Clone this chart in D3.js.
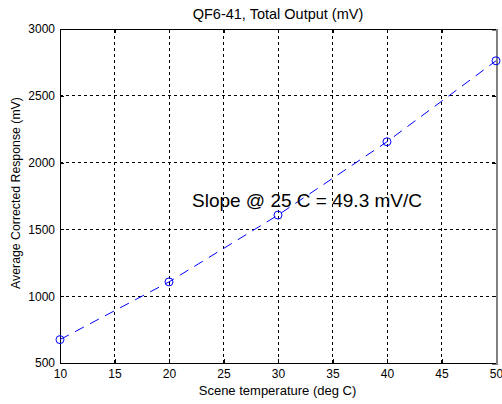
<!DOCTYPE html>
<html><head><meta charset="utf-8">
<script src="https://cdn.jsdelivr.net/npm/d3@7"></script>
<style>body{margin:0;background:#fff}svg{display:block}text{font-family:Arial,"Liberation Sans",Helvetica,sans-serif}</style>
</head><body>
<script>
const temps = [10, 20, 30, 40, 50];
const response = [675, 1107, 1607, 2156, 2762];
const xTicks = [10, 15, 20, 25, 30, 35, 40, 45, 50];
const yTicks = [500, 1000, 1500, 2000, 2500, 3000];
const title = "QF6-41, Total Output (mV)";
const xLabel = "Scene temperature (deg C)";
const yLabel = "Average Corrected Response (mV)";
const note = "Slope @ 25 C = 49.3 mV/C";

const W = 502, H = 404;
const m = {l: 60, r: 6, t: 29, b: 41};
const svg = d3.select("body").append("svg").attr("width", W).attr("height", H);
const x = d3.scaleLinear().domain([10, 50]).range([m.l, W - m.r]);
const y = d3.scaleLinear().domain([500, 3000]).range([H - m.b, m.t]);

// grid
const g = svg.append("g");
g.selectAll(".gx").data(xTicks.slice(1, -1)).join("line")
  .attr("x1", d => x(d)).attr("x2", d => x(d)).attr("y1", y(500)).attr("y2", y(3000))
  .attr("stroke", "#000").attr("stroke-dasharray", "3,3").attr("stroke-width", 1).attr("shape-rendering", "crispEdges");
g.selectAll(".gy").data(yTicks.slice(1, -1)).join("line")
  .attr("y1", d => y(d)).attr("y2", d => y(d)).attr("x1", x(10)).attr("x2", x(50))
  .attr("stroke", "#000").attr("stroke-dasharray", "3,3").attr("stroke-width", 1).attr("shape-rendering", "crispEdges");

// axes
svg.append("g").attr("transform", `translate(0,${y(500)})`)
  .call(d3.axisBottom(x).tickValues(xTicks).tickSize(-4).tickPadding(6));
svg.append("g").attr("transform", `translate(${x(10)},0)`)
  .call(d3.axisLeft(y).tickValues(yTicks).tickSize(-4).tickPadding(5).tickFormat(d3.format("d")));
svg.append("g").attr("transform", `translate(0,${y(3000)})`)
  .call(d3.axisTop(x).tickValues(xTicks).tickSize(-4).tickFormat(""));
const right = svg.append("g").attr("class", "rightax").attr("transform", `translate(${x(50)},0)`)
  .call(d3.axisRight(y).tickValues(yTicks).tickSize(-4).tickFormat(""));
svg.selectAll(".domain").attr("stroke", "#000").attr("shape-rendering", "crispEdges");
svg.selectAll(".tick line").attr("stroke", "#000").attr("shape-rendering", "crispEdges");
right.select(".domain").attr("stroke", "#808080").attr("stroke-width", 2);
svg.selectAll(".tick text").attr("font-size", 12).attr("fill", "#000")
  .attr("font-family", "Arial, 'Liberation Sans', sans-serif");

// data line
const line = d3.line().x((d, i) => x(temps[i])).y(d => y(d));
svg.append("path").datum(response).attr("d", line)
  .attr("fill", "none").attr("stroke", "#0000ff").attr("stroke-width", 1)
  .attr("stroke-dasharray", "10,7");
svg.selectAll(".pt").data(response).join("circle")
  .attr("cx", (d, i) => x(temps[i])).attr("cy", d => y(d)).attr("r", 4)
  .attr("fill", "none").attr("stroke", "#0000ff").attr("stroke-width", 1);

// texts
svg.append("text").attr("x", (x(10) + x(50)) / 2).attr("y", 19).attr("text-anchor", "middle")
  .attr("font-size", 14.5).text(title);
svg.append("text").attr("x", (x(10) + x(50)) / 2 - 0.5).attr("y", 395).attr("text-anchor", "middle")
  .attr("font-size", 13).text(xLabel);
svg.append("text").attr("transform", `translate(20,193) rotate(-90)`)
  .attr("text-anchor", "middle").attr("font-size", 12.3).text(yLabel);
svg.append("text").attr("x", 192).attr("y", 207).attr("font-size", 19).text(note);
</script>
</body></html>
